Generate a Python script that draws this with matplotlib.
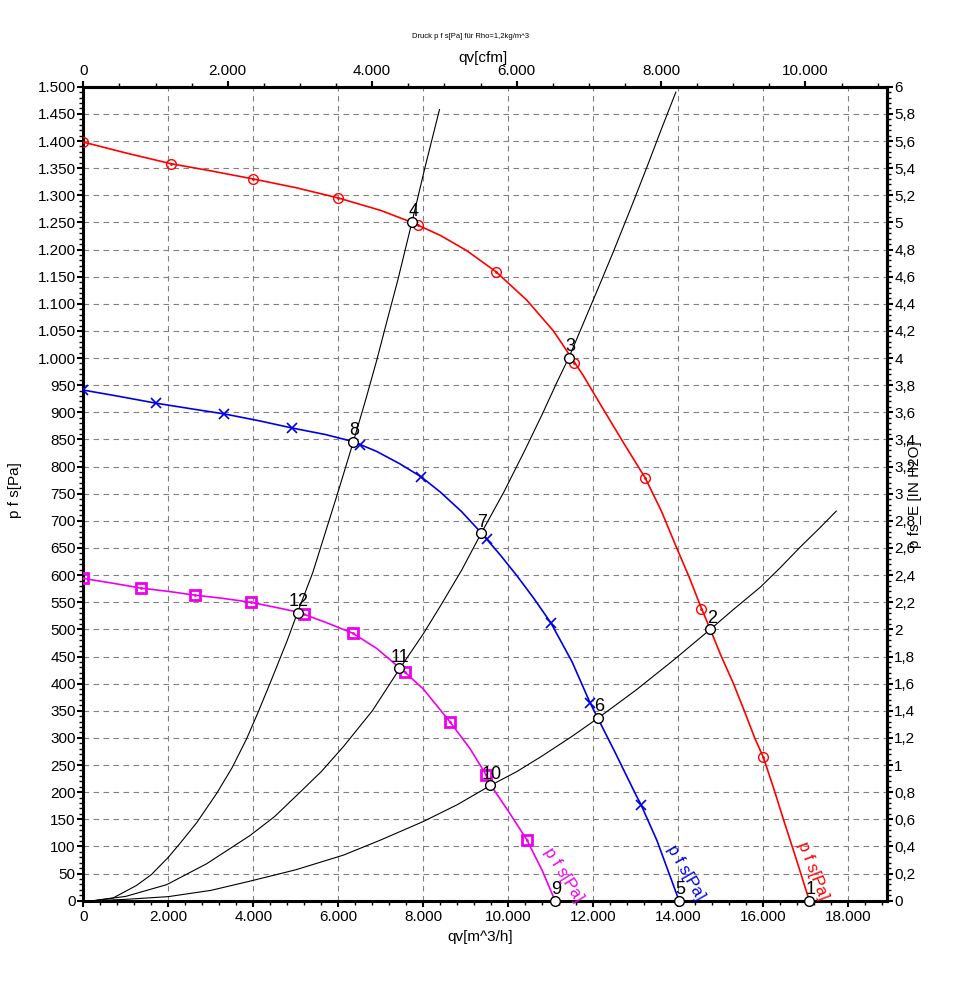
import numpy as np
import matplotlib.pyplot as plt
from matplotlib.ticker import MultipleLocator, FuncFormatter

plt.rcParams['font.family'] = ['Liberation Sans', 'DejaVu Sans']

# system curves (black)
sys_a_q = [240, 700, 1250, 1600, 2000, 2300, 2670, 3140, 3500, 3840, 4100, 4390, 4800, 5040,
           5400, 5700, 6000, 6350, 6650, 6900, 7150, 7400, 7730, 8050, 8380]
sys_a_p = [0, 5, 28, 48, 80, 108, 144, 198, 245, 298, 345, 400, 480, 531,
           605, 680, 755, 845, 925, 995, 1070, 1144, 1250, 1355, 1458]
sys_b_q = [240, 1000, 1960, 2900, 3920, 4500, 5020, 5600, 6120, 6800, 7430, 8000, 8400, 8900,
           9360, 9900, 10400, 10800, 11140, 11430, 11850, 12200, 12470, 12900, 13260, 13600, 13940]
sys_b_p = [0, 8, 29.5, 68, 120, 155, 194, 238, 284, 350, 426, 492, 543, 609,
           677, 754, 832, 897, 955, 1002, 1080, 1145, 1196, 1280, 1352, 1422, 1490]
sys_c_q = [240, 1000, 2000, 3000, 3920, 5000, 6120, 7000, 8000, 8800, 9570, 10200, 10800,
           11500, 12100, 13000, 13880, 14750, 15300, 15930, 16400, 16870, 17300, 17715]
sys_c_p = [0, 2.5, 7.5, 19, 36, 57, 84, 112, 146, 177, 212, 238, 267,
           303, 336, 388, 443, 500, 537, 578, 614, 652, 685, 718]

# fan curves
red_q = [0, 1000, 2070, 3000, 4000, 5000, 6000, 7000, 7730, 8400, 9020, 9710, 10430, 11060,
         11420, 11760, 12200, 12700, 13220, 13600, 13960, 14250, 14510, 14750, 15000, 15290,
         15550, 15800, 16000, 16250, 16470, 16800, 17080]
red_p = [1398, 1378, 1358, 1345, 1330, 1314, 1295, 1272, 1250, 1226, 1198, 1159, 1107, 1050,
         1008, 968, 910, 845, 779, 718, 650, 597, 545, 500, 452, 401,
         350, 299, 264, 205, 150, 70, 0]
red_mq = [0, 2070, 4000, 6000, 7880, 9710, 11550, 13220, 14530, 16000]
red_mp = [1398, 1358, 1330, 1295, 1245, 1159, 991, 779, 537, 264]

blue_q = [0, 800, 1700, 2500, 3320, 4100, 4920, 5700, 6350, 6900, 7450, 7950, 8400, 8900,
          9360, 9800, 10200, 10600, 11000, 11500, 11920, 12100, 12500, 13000, 13120, 13500, 14016]
blue_p = [941, 930, 917, 907, 897, 885, 871, 859, 846, 828, 805, 781, 753, 717,
          678, 638, 599, 557, 512, 440, 365, 337, 275, 195, 177, 110, 0]
blue_mq = [0, 1700, 3320, 4920, 6500, 7950, 9500, 11000, 11920, 13120]
blue_mp = [941, 917, 897, 871, 840, 781, 666, 512, 365, 177]

mag_q = [0, 700, 1366, 2000, 2638, 3300, 3934, 4500, 5041, 5183, 5700, 6337, 6900, 7428,
         7569, 8000, 8622, 9100, 9475, 9569, 10000, 10436, 10800, 11098]
mag_p = [594, 585, 576, 570, 563, 557, 550, 541, 532, 528, 513, 493, 465, 430,
         421, 390, 330, 280, 232, 215, 165, 112, 55, 0]
mag_mq = [0, 1366, 2638, 3934, 5183, 6337, 7569, 8622, 9475, 10436]
mag_mp = [594, 576, 563, 550, 528, 493, 421, 330, 232, 112]

# operating points
op_q = [17080, 14750, 11430, 7730, 14016, 12100, 9360, 6353, 11098, 9569, 7428, 5041]
op_p = [0, 500, 1000, 1250, 0, 337, 677, 846, 0, 213, 428, 531]
op_lbl = [str(i) for i in range(1, 13)]

RED = '#ff0000'
BLUE = '#0000e6'
MAG = '#ee00ee'

fig = plt.figure(figsize=(9.58, 9.93), dpi=100)
ax = fig.add_axes([0.08695, 0.09295, 0.8386, 0.8197])

for q, p in [(sys_a_q, sys_a_p), (sys_b_q, sys_b_p), (sys_c_q, sys_c_p)]:
    ax.plot(q, p, color='black', lw=0.8, zorder=3)

ax.plot(red_q, red_p, color=RED, lw=1.2, zorder=4)
ax.plot(blue_q, blue_p, color=BLUE, lw=1.2, zorder=4)
ax.plot(mag_q, mag_p, color=MAG, lw=1.2, zorder=4)

ax.plot(red_mq, red_mp, 'o', ms=7, mfc='none', mec=RED, mew=1.0, zorder=5)
ax.plot(red_mq, red_mp, '.', ms=2, color=RED, zorder=5)
ax.plot(blue_mq, blue_mp, 'x', ms=7, mec=BLUE, mew=1.2, zorder=5)
ax.plot(mag_mq, mag_mp, 's', ms=7, mfc='none', mec=MAG, mew=2.0, zorder=5)
ax.plot(mag_mq, mag_mp, '.', ms=2, color=MAG, zorder=5)

ax.plot(op_q, op_p, 'o', ms=7, mfc='white', mec='black', mew=1.0, zorder=6, clip_on=False)
for q, p, t in zip(op_q, op_p, op_lbl):
    ax.annotate(t, (q, p), xytext=(1, 8), textcoords='offset points',
                ha='center', va='center', fontsize=13, zorder=7, annotation_clip=False)

# curve names
ax.text(17170, 56, 'p f s[Pa]', color=RED, fontsize=12, rotation=-69,
        rotation_mode='anchor', ha='center', va='center')
ax.text(14180, 52, 'p f s[Pa]', color=BLUE, fontsize=12, rotation=-60,
        rotation_mode='anchor', ha='center', va='center')
ax.text(11300, 48, 'p f s[Pa]', color=MAG, fontsize=12, rotation=-58,
        rotation_mode='anchor', ha='center', va='center')

ax.set_xlim(0, 18900)
ax.set_ylim(0, 1500)

dots = FuncFormatter(lambda v, _: f"{v:,.0f}".replace(",", "."))
ax.xaxis.set_major_locator(MultipleLocator(2000))
ax.xaxis.set_minor_locator(MultipleLocator(400))
ax.yaxis.set_major_locator(MultipleLocator(50))
ax.yaxis.set_minor_locator(MultipleLocator(10))
ax.xaxis.set_major_formatter(dots)
ax.yaxis.set_major_formatter(dots)

ax.grid(True, which='major', color='#808080', lw=0.8, ls=(0, (5, 4)))
ax.set_axisbelow(True)

for s in ax.spines.values():
    s.set_linewidth(2.2)
ax.tick_params(which='major', length=4.5, width=1.5, labelsize=11, pad=1)
ax.tick_params(which='minor', length=3, width=1)
ax.tick_params(axis='x', which='major', pad=2)

secx = ax.secondary_xaxis('top', functions=(lambda q: q / 1.699, lambda c: c * 1.699))
secx.xaxis.set_major_locator(MultipleLocator(2000))
secx.xaxis.set_minor_locator(MultipleLocator(500))
secx.xaxis.set_major_formatter(dots)
secx.tick_params(which='major', length=4.5, width=1.5, labelsize=11, pad=2)
secx.tick_params(which='minor', length=3, width=1)
secx.spines['top'].set_linewidth(2.2)

secy = ax.secondary_yaxis('right', functions=(lambda p: p / 250, lambda h: h * 250))
secy.yaxis.set_major_locator(MultipleLocator(0.2))
secy.yaxis.set_minor_locator(MultipleLocator(0.04))
secy.yaxis.set_major_formatter(FuncFormatter(lambda v, _: f"{round(v, 1):g}".replace(".", ",")))
secy.tick_params(which='major', length=4.5, width=1.5, labelsize=11, pad=1)
secy.tick_params(which='minor', length=3, width=1)
secy.spines['right'].set_linewidth(2.2)

fig.text(470 / 958, 1 - 37 / 993, 'Druck p f s[Pa] für Rho=1,2kg/m^3', fontsize=5.5,
         ha='center', va='center')
fig.text(483 / 958, 1 - 58 / 993, 'qv[cfm]', fontsize=11, ha='center', va='center')
fig.text(480 / 958, 1 - 937 / 993, 'qv[m^3/h]', fontsize=11, ha='center', va='center')
fig.text(15 / 958, 1 - 490 / 993, 'p f s[Pa]', fontsize=11, rotation=90, ha='center', va='center')
fig.text(915 / 958, 1 - 495 / 993, 'p fs_E [IN H2O]', fontsize=11, rotation=90,
         ha='center', va='center')

fig.savefig('out.png', dpi=100)
